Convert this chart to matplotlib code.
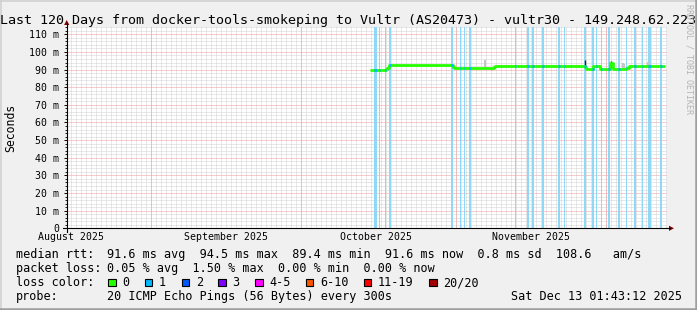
import datetime as dt
import numpy as np
import matplotlib
matplotlib.use('Agg')
import matplotlib.pyplot as plt
import matplotlib.transforms as mtransforms
from matplotlib.patches import Rectangle, Polygon
from matplotlib.lines import Line2D

plt.rcParams['font.family'] = 'DejaVu Sans Mono'

# ---- data -------------------------------------------------------------
end_time = dt.datetime(2025, 12, 13, 1, 43, 12)
n_days = 120
start_time = end_time - dt.timedelta(days=n_days)

# median rtt in ms, step series (day offset from start -> value)
median_days = [60.74, 63.8, 64.1, 64.4, 77.2, 77.5, 85.4, 85.7, 98.2, 103.6,
               103.9, 105.2, 106.6, 108.6, 109.2, 111.8, 112.4, 119.6]
median_ms = [89.6, 90.2, 91.0, 92.4, 91.3, 90.9, 91.6, 92.2, 91.9, 91.4,
             90.5, 92.2, 90.5, 93.7, 90.5, 90.9, 91.9, 91.9]

# periods with 1/20 packet loss (start day, length in days)
loss_days = [61.5, 62.4, 63.6, 64.5, 76.8, 78.6, 79.4, 80.5, 89.7, 92.1,
             93.1, 95.1, 98.3, 99.4, 103.5, 105.1, 105.8, 106.8, 108.3,
             110.3, 111.8, 113.4, 115.0, 116.3, 118.7]
loss_len = [0.6, 0.3, 0.3, 0.3, 0.4, 0.3, 0.3, 0.4, 0.2, 0.4,
            0.3, 0.3, 0.4, 0.3, 0.4, 0.3, 0.3, 0.3, 0.3,
            0.3, 0.3, 0.4, 0.3, 0.6, 0.3]

# smoke (spread of the pings) in ms
dark_smoke_days = [64.0, 77.3, 103.6, 108.8]
dark_smoke_lo = [89.6, 90.9, 91.5, 91.0]
dark_smoke_hi = [91.5, 92.4, 95.4, 95.0]
light_smoke_days = [83.6, 111.2, 111.5, 116.2]
light_smoke_lo = [91.6, 91.0, 91.0, 91.9]
light_smoke_hi = [95.5, 93.5, 93.2, 94.1]

y_ticks = list(range(0, 111, 10))
y_tick_labels = ['0'] + [f'{v} m' for v in y_ticks[1:]]
month_names = ['August 2025', 'September 2025', 'October 2025', 'November 2025']
month_firsts = [dt.datetime(2025, m, 1) for m in (8, 9, 10, 11, 12)]

title = ('Last 120 Days from docker-tools-smokeping to Vultr (AS20473) '
         '- vultr30 - 149.248.62.223')
legend_rows = [
    ('median rtt:', '91.6 ms avg  94.5 ms max  89.4 ms min  91.6 ms now  0.8 ms sd  108.6   am/s'),
    ('packet loss:', '0.05 % avg  1.50 % max  0.00 % min  0.00 % now'),
    ('loss color:', ''),
    ('probe:', '20 ICMP Echo Pings (56 Bytes) every 300s'),
]
loss_labels = ['0', '1', '2', '3', '4-5', '6-10', '11-19', '20/20']
loss_colors = ['#26ff00', '#00b8ff', '#0059ff', '#7e00ff', '#ff00ff',
               '#ff5500', '#ff0000', '#a10000']
stamp = 'Sat Dec 13 01:43:12 2025'

# ---- figure -----------------------------------------------------------
W, H = 697, 310
fig = plt.figure(figsize=(W / 100, H / 100), dpi=100)
fig.patch.set_facecolor('#f0f0f0')


def fx(px):
    return px / W


def fy(py):
    return 1 - py / H


x0, x1 = 66.7, 666.7
y0, y1 = 228.3, 27.0
ymax = 114.15
ax = fig.add_axes([fx(x0), fy(y0), (x1 - x0) / W, (y0 - y1) / H])
ax.set_xlim(0, n_days)
ax.set_ylim(0, ymax)
for s in ax.spines.values():
    s.set_visible(False)


def day_of(t):
    return (t - start_time).total_seconds() / 86400


# grid
dot = (0, (1, 1))
minor_col = '#d2d2d2'
major_col = '#f09a9a'
first_midnight = day_of(dt.datetime(2025, 8, 16))
for d in np.arange(first_midnight, n_days, 1.0):
    ax.axvline(d, color=minor_col, lw=0.72, ls=dot, zorder=1)
for v in np.arange(2, ymax, 2):
    if v % 10:
        ax.axhline(v, color=minor_col, lw=0.72, ls=dot, zorder=1)
for m in month_firsts:
    d = day_of(m)
    if 0 < d < n_days:
        ax.axvline(d, color=major_col, lw=0.72, ls=dot, zorder=1.5)
for v in y_ticks[1:]:
    ax.axhline(v, color=major_col, lw=0.72, ls=dot, zorder=1.5)

# loss stripes
for d, w in zip(loss_days, loss_len):
    ax.axvspan(d, d + w, color='#8fd8f6', lw=0, zorder=2)

# smoke
ax.vlines(light_smoke_days, light_smoke_lo, light_smoke_hi, color='#c4c4c4', lw=1.4, zorder=3)
ax.vlines(dark_smoke_days, dark_smoke_lo, dark_smoke_hi, color='#222222', lw=1.0, zorder=3)

# median line
ax.step(median_days, median_ms, where='post', color=loss_colors[0], lw=2.0, zorder=4,
        solid_capstyle='butt')
md = np.array(median_days)
for d, w in zip(loss_days, loss_len):
    if md[0] <= d <= md[-1]:
        i = np.searchsorted(md, d, side='right') - 1
        ax.hlines(median_ms[i], d, d + w, color=loss_colors[1], lw=2.0, zorder=5)

# ticks
ax.set_yticks(y_ticks)
ax.set_yticklabels(y_tick_labels)
ax.set_yticks(np.arange(2, ymax, 2), minor=True)
ax.tick_params(axis='y', which='major', direction='out', length=2.4, width=0.7,
               pad=3.0, labelsize=7.1, colors='black')
ax.tick_params(axis='y', which='minor', direction='out', length=1.2, width=0.6)
ax.set_xticks([])

# x labels (centred half a month after the month start)
xtrans = mtransforms.blended_transform_factory(ax.transData, fig.transFigure)
for m, name in zip(month_firsts, month_names):
    d = day_of(m + dt.timedelta(days=15))
    ax.text(d, fy(240), name, transform=xtrans, ha='center', va='baseline',
            fontsize=7.1, clip_on=False)

# axes lines and arrows
fig.add_artist(Line2D([fx(x0), fx(x0)], [fy(231.5), fy(23)], color='black', lw=0.8))
fig.add_artist(Line2D([fx(62.7), fx(670)], [fy(y0), fy(y0)], color='black', lw=0.8))
fig.add_artist(Polygon([(fx(x0), fy(20.0)), (fx(x0 - 2.6), fy(25.0)), (fx(x0 + 2.6), fy(25.0))],
                       closed=True, color='#800000', lw=0))
fig.add_artist(Polygon([(fx(674), fy(y0)), (fx(669), fy(y0 - 2.6)), (fx(669), fy(y0 + 2.6))],
                       closed=True, color='#800000', lw=0))

# texts
fig.text(fx(348.5), fy(24), title, ha='center', va='baseline', fontsize=9.6)
fig.text(fx(10.5), fy(127.5), 'Seconds', rotation=90, ha='center', va='center', fontsize=8.3)
fig.text(fx(688.5), fy(4.5), 'RRDTOOL / TOBI OETIKER', rotation=270, ha='center', va='top',
         fontsize=6.0, color='#b4b4b4')

cw = 7.1
base = 258.3
for k, (lab, val) in enumerate(legend_rows):
    yb = base + 14 * k
    fig.text(fx(15.5), fy(yb), lab, ha='left', va='baseline', fontsize=8.5)
    if val:
        fig.text(fx(106.8), fy(yb), val, ha='left', va='baseline', fontsize=8.5)

# loss colour boxes
bx = 108.3
yb = base + 28
for lab, col in zip(loss_labels, loss_colors):
    fig.add_artist(Rectangle((fx(bx), fy(yb)), 7.4 / W, 7.6 / H, facecolor=col,
                             edgecolor='black', lw=0.8))
    tx = bx + 14
    fig.text(fx(tx), fy(yb), lab, ha='left', va='baseline', fontsize=8.5)
    bx = tx + len(lab) * cw + 15.6

fig.text(fx(682), fy(base + 42), stamp, ha='right', va='baseline', fontsize=8.5)

# frame shading
fig.add_artist(Line2D([0, 1], [fy(0.75), fy(0.75)], color='#cfcfcf', lw=1.1))
fig.add_artist(Line2D([fx(0.75), fx(0.75)], [0, 1], color='#cfcfcf', lw=1.1))
fig.add_artist(Line2D([0, 1], [fy(H - 1.25), fy(H - 1.25)], color='#9e9e9e', lw=1.8))
fig.add_artist(Line2D([fx(W - 1.25), fx(W - 1.25)], [0, 1], color='#9e9e9e', lw=1.8))

fig.savefig('out.png', dpi=100, facecolor=fig.get_facecolor())
